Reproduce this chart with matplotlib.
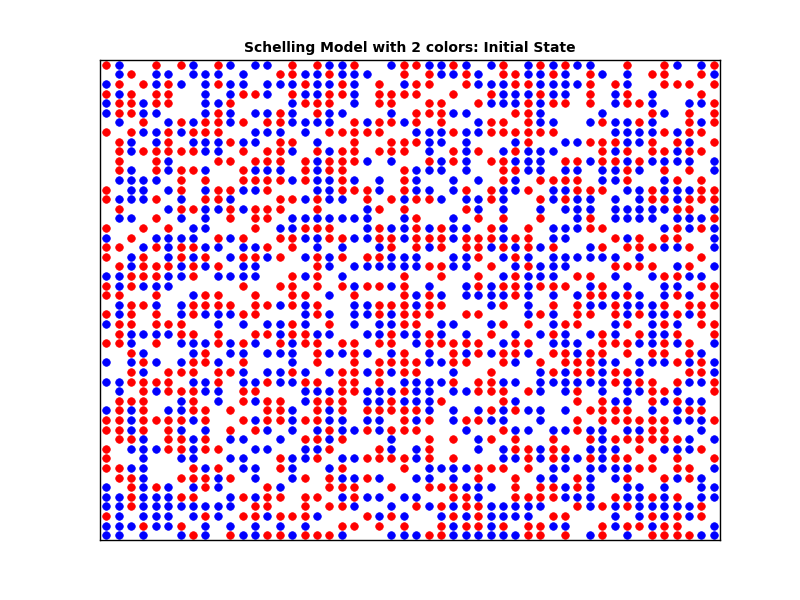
import matplotlib
matplotlib.use("Agg")
import matplotlib.pyplot as plt

title = "Schelling Model with 2 colors: Initial State"
n_cols = 50
n_rows = 50

# occupied columns in each grid row, listed from the top row down
red_cols = [
    [0, 4, 6, 9, 15, 17, 20, 24, 25, 28, 32, 35, 37, 42, 45, 49],
    [2, 14, 15, 18, 24, 26, 29, 32, 33, 36, 39, 44, 45, 48],
    [1, 3, 5, 9, 16, 19, 22, 25, 26, 29, 33, 34, 39, 41, 45, 46, 47, 49],
    [0, 2, 4, 5, 11, 12, 15, 18, 19, 22, 23, 24, 25, 28, 31, 35, 39, 42, 48],
    [1, 2, 4, 5, 10, 16, 17, 18, 22, 23, 26, 27, 30, 34, 36, 37, 39, 42, 43, 49],
    [1, 2, 9, 14, 17, 25, 26, 27, 33, 34, 44, 47, 49],
    [3, 6, 8, 9, 11, 13, 14, 20, 22, 23, 25, 27, 31, 32, 34, 40, 43, 47, 49],
    [0, 2, 5, 7, 8, 9, 18, 19, 20, 21, 22, 28, 31, 32, 33, 34, 35, 36, 45, 47, 48],
    [1, 5, 10, 14, 15, 20, 23, 24, 25, 34, 39, 40, 41, 44, 46, 49],
    [1, 3, 4, 5, 6, 7, 11, 13, 14, 17, 19, 20, 22, 23, 24, 28, 30, 33, 40, 42, 44, 45, 47, 48],
    [1, 4, 9, 10, 12, 13, 14, 16, 18, 19, 20, 26, 28, 31, 32, 37, 38, 40, 41, 43],
    [1, 4, 6, 7, 11, 16, 18, 19, 24, 32, 33, 42, 45, 47],
    [6, 8, 11, 12, 13, 14, 16, 19, 24, 32, 35, 36, 37, 38, 42, 46, 48],
    [0, 6, 9, 10, 13, 19, 20, 21, 24, 29, 31, 34, 38, 39, 40, 44, 48, 49],
    [0, 4, 8, 9, 14, 15, 17, 21, 23, 25, 26, 31, 35, 37, 44, 45, 47, 48, 49],
    [1, 6, 7, 10, 12, 13, 14, 17, 22, 24, 29, 46, 47],
    [4, 10, 12, 13, 25, 30, 32, 35, 39, 49],
    [0, 3, 5, 12, 16, 17, 18, 22, 25, 27, 31, 34, 39, 40, 46, 48],
    [2, 9, 11, 14, 15, 18, 19, 22, 23, 25, 26, 27, 29, 30, 31, 33, 34, 41, 43, 45, 46],
    [0, 1, 4, 6, 7, 13, 15, 23, 25, 27, 29, 30, 32, 34, 36, 40, 42, 43, 44, 47],
    [0, 3, 6, 8, 11, 12, 14, 17, 19, 21, 22, 30, 33, 48],
    [1, 3, 4, 5, 7, 9, 17, 26, 27, 31, 34, 41, 42, 43, 44, 47],
    [2, 3, 4, 7, 15, 17, 24, 27, 30, 33, 38, 39, 45, 46],
    [0, 2, 11, 14, 15, 17, 19, 21, 22, 24, 30, 32, 33, 35, 36, 37, 40, 48, 49],
    [0, 1, 4, 8, 9, 12, 15, 16, 20, 24, 26, 33, 39, 40, 42, 46, 49],
    [2, 3, 7, 8, 9, 10, 12, 13, 15, 17, 22, 23, 24, 26, 27, 32, 36, 38, 41, 45, 47, 48, 49],
    [0, 2, 4, 7, 11, 12, 17, 22, 24, 25, 26, 29, 30, 35, 38, 39, 41, 43, 46, 48],
    [1, 2, 4, 5, 6, 15, 18, 24, 25, 32, 34, 37, 38, 42, 45, 48, 49],
    [1, 6, 7, 9, 12, 13, 15, 16, 23, 26, 31, 36, 40, 43, 46, 49],
    [0, 1, 4, 9, 11, 14, 16, 17, 19, 20, 22, 23, 26, 27, 28, 29, 30, 33, 34, 40, 41, 42, 45, 47],
    [2, 8, 17, 20, 24, 28, 30, 32, 33, 36, 37, 39, 40, 42, 44, 45, 47],
    [3, 7, 8, 11, 17, 20, 22, 23, 24, 25, 28, 29, 32, 35, 37, 38, 39, 46, 48],
    [2, 5, 6, 7, 9, 10, 15, 19, 20, 22, 24, 25, 31, 36, 38, 39, 41, 42, 47, 48],
    [2, 3, 4, 5, 9, 13, 16, 17, 19, 20, 22, 28, 30, 31, 41, 43, 44, 46, 49],
    [3, 5, 6, 7, 11, 12, 19, 20, 24, 30, 31, 32, 34, 38, 44, 45, 49],
    [1, 2, 3, 7, 11, 13, 14, 17, 18, 19, 23, 27, 32, 38, 40, 44, 46],
    [1, 3, 7, 8, 10, 13, 14, 17, 19, 21, 22, 23, 24, 25, 31, 33, 39, 40, 41, 42, 47, 48],
    [0, 1, 3, 4, 5, 6, 8, 11, 13, 14, 16, 17, 24, 26, 29, 30, 38, 40, 41, 42, 43, 44, 45, 49],
    [0, 1, 3, 5, 10, 12, 18, 21, 23, 24, 25, 32, 38, 44, 45],
    [1, 2, 5, 6, 8, 16, 17, 19, 26, 28, 31, 33, 36, 39, 41, 42, 43, 44, 45, 46],
    [0, 5, 6, 8, 9, 18, 22, 26, 33, 34, 36, 37, 43, 48],
    [0, 14, 17, 21, 22, 23, 24, 26, 28, 34, 36, 39, 41, 42, 44, 46, 49],
    [0, 1, 7, 9, 14, 19, 24, 30, 31, 32, 34, 43, 44, 46, 47],
    [1, 2, 6, 7, 8, 10, 16, 18, 21, 30, 33, 38, 42, 45, 47],
    [2, 4, 8, 13, 18, 19, 20, 23, 26, 27, 28, 33, 35, 36, 38],
    [2, 6, 7, 11, 13, 14, 16, 17, 20, 28, 29, 33, 34, 35, 36, 41, 44, 46],
    [2, 12, 13, 16, 18, 19, 25, 27, 29, 30, 38, 40, 42, 48],
    [0, 8, 11, 12, 14, 15, 16, 21, 23, 28, 30, 36, 37, 44, 46, 48],
    [3, 6, 19, 20, 22, 24, 27, 29, 30, 32, 34, 35, 40, 42, 43, 45, 46],
    [7, 10, 13, 14, 16, 17, 18, 26, 27, 34, 35, 37, 40, 44, 45, 46, 47],
]

blue_cols = [
    [1, 7, 10, 12, 13, 18, 19, 23, 26, 27, 29, 31, 34, 36, 38, 39, 46, 48],
    [1, 4, 5, 7, 8, 9, 11, 16, 17, 19, 20, 21, 27, 28, 30, 34, 35, 37, 40, 42, 49],
    [0, 4, 6, 8, 10, 11, 13, 14, 15, 17, 18, 20, 24, 30, 31, 32, 35, 36, 37, 38, 42],
    [1, 8, 10, 13, 16, 17, 20, 32, 33, 34, 36, 37, 41, 44],
    [0, 3, 8, 9, 15, 20, 31, 32, 33, 35, 41, 44, 47, 48],
    [0, 3, 4, 8, 10, 12, 13, 15, 18, 19, 23, 28, 29, 35, 40, 45],
    [1, 5, 7, 10, 15, 16, 17, 18, 21, 24, 30, 35, 36, 39, 41, 42, 44, 48],
    [3, 4, 6, 12, 13, 14, 16, 25, 26, 27, 29, 30, 41, 42, 43, 44, 46],
    [2, 4, 7, 8, 9, 11, 12, 17, 26, 27, 29, 33, 37, 38, 42, 43, 47],
    [2, 8, 9, 15, 18, 26, 29, 32, 34, 35, 36, 41, 46],
    [5, 17, 21, 23, 27, 29, 33, 34, 35, 39, 42, 44, 45, 46, 47, 49],
    [2, 5, 8, 12, 13, 14, 17, 25, 26, 27, 29, 34, 35, 37, 38, 40, 41, 43, 49],
    [1, 2, 3, 4, 15, 17, 18, 20, 22, 25, 28, 30, 33, 40, 41, 45],
    [2, 3, 5, 8, 11, 12, 17, 18, 22, 25, 26, 28, 32, 33, 36, 37, 42, 43, 45, 46, 47],
    [1, 2, 3, 6, 10, 16, 18, 19, 24, 27, 29, 30, 32, 36, 38, 39, 41, 43, 46],
    [5, 8, 9, 11, 21, 30, 32, 35, 37, 38, 39, 41, 42, 43, 44, 45, 49],
    [1, 2, 6, 8, 15, 16, 17, 18, 19, 20, 21, 24, 28, 38, 41, 42, 43, 44, 46, 47, 48],
    [7, 8, 14, 15, 21, 23, 24, 26, 28, 29, 32, 36, 37, 38, 45, 47, 49],
    [0, 4, 5, 6, 7, 10, 16, 17, 20, 21, 24, 28, 32, 36, 37, 42, 49],
    [3, 5, 8, 9, 11, 12, 17, 19, 22, 26, 31, 33, 35, 39, 45, 46, 49],
    [2, 5, 7, 10, 13, 16, 18, 23, 24, 25, 28, 29, 32, 34, 36, 37, 38, 39, 40, 41, 43],
    [2, 6, 8, 11, 12, 18, 20, 21, 22, 23, 24, 25, 28, 29, 33, 35, 36, 37, 46, 49],
    [0, 1, 5, 6, 9, 10, 11, 12, 16, 19, 32, 34, 35, 36, 41, 44, 47, 48],
    [1, 3, 4, 5, 20, 23, 26, 29, 31, 34, 39, 42, 45, 46],
    [7, 18, 25, 27, 29, 30, 31, 32, 34, 36, 38, 41, 43, 45, 47],
    [1, 4, 6, 14, 16, 20, 21, 25, 31, 34, 39, 40, 42, 43, 44],
    [1, 6, 8, 9, 10, 16, 18, 20, 21, 23, 34, 36, 42, 44, 45, 47],
    [0, 9, 11, 13, 14, 16, 20, 22, 23, 27, 28, 31, 36, 41, 44, 46],
    [2, 3, 4, 5, 14, 17, 18, 21, 22, 24, 25, 27, 29, 33, 35, 37, 39, 41, 44, 45],
    [2, 6, 7, 8, 10, 12, 15, 25, 32, 36, 37, 38, 43, 44, 46, 49],
    [3, 7, 10, 11, 13, 14, 15, 18, 19, 21, 23, 26, 29, 31, 34, 38, 48],
    [0, 2, 4, 6, 9, 15, 26, 27, 33, 40, 41, 43, 44, 45, 47, 49],
    [3, 11, 13, 14, 16, 18, 21, 23, 28, 35, 37, 40, 43, 49],
    [0, 1, 7, 8, 11, 12, 14, 15, 24, 25, 26, 27, 32, 33, 35, 36, 37, 38, 39, 40, 42, 47, 48],
    [1, 4, 8, 9, 16, 17, 18, 21, 22, 23, 25, 26, 28, 29, 35, 37, 40, 42, 43, 46],
    [6, 9, 12, 16, 21, 22, 24, 25, 26, 33, 41, 42, 45, 47, 48],
    [0, 2, 5, 6, 15, 18, 26, 28, 30, 32, 34, 35, 37, 44, 46],
    [2, 7, 12, 15, 18, 19, 21, 22, 25, 28, 31, 32, 35, 46, 47, 48],
    [2, 6, 8, 13, 15, 17, 19, 20, 22, 29, 33, 34, 36, 37, 39, 40, 42, 43, 48],
    [3, 7, 10, 11, 14, 18, 23, 30, 40, 47, 49],
    [2, 3, 4, 7, 12, 13, 16, 17, 23, 25, 30, 32, 35, 39, 40, 41, 45, 46, 47],
    [3, 6, 7, 10, 11, 15, 16, 19, 20, 25, 32, 33, 35, 37, 38, 40],
    [2, 3, 8, 11, 12, 15, 18, 26, 27, 28, 29, 36, 37, 39, 40, 41, 42, 49],
    [3, 9, 12, 15, 19, 20, 22, 25, 26, 28, 35, 36, 39, 41, 46, 48],
    [0, 3, 5, 7, 9, 14, 29, 30, 31, 37, 39, 42, 43, 45, 48, 49],
    [0, 1, 3, 4, 5, 10, 12, 19, 21, 22, 24, 25, 30, 37, 38, 39, 42, 43, 45, 48, 49],
    [0, 1, 3, 4, 5, 6, 7, 8, 9, 10, 20, 23, 26, 28, 31, 32, 33, 34, 35, 39, 41, 43, 44, 45, 46, 47],
    [1, 3, 4, 5, 7, 9, 13, 17, 22, 24, 27, 29, 31, 32, 33, 34, 41, 43, 45, 47],
    [0, 1, 2, 4, 5, 8, 10, 12, 14, 16, 28, 31, 36, 37, 41, 44, 49],
    [0, 1, 3, 6, 8, 11, 12, 15, 19, 23, 24, 25, 28, 29, 30, 31, 32, 33, 39, 42, 48, 49],
]


def cells(rows):
    xs, ys = [], []
    for r, cols in enumerate(rows):
        for c in cols:
            xs.append(c)
            ys.append(n_rows - 1 - r)
    return xs, ys


fig, ax = plt.subplots(figsize=(8, 6), dpi=100)
fig.subplots_adjust(left=0.125, right=0.9, bottom=0.1, top=0.9)

for rows, color in [(red_cols, "red"), (blue_cols, "blue")]:
    xs, ys = cells(rows)
    ax.scatter(xs, ys, s=30, c=color, edgecolors=color, linewidths=0.5)

ax.set_xlim(-0.5, n_cols - 0.5)
ax.set_ylim(-0.5, n_rows - 0.5)
ax.set_xticks([])
ax.set_yticks([])
for spine in ax.spines.values():
    spine.set_color("black")
    spine.set_linewidth(1.0)
ax.set_title(title, fontsize=10, fontweight="bold")

plt.savefig("out.png", dpi=100)
